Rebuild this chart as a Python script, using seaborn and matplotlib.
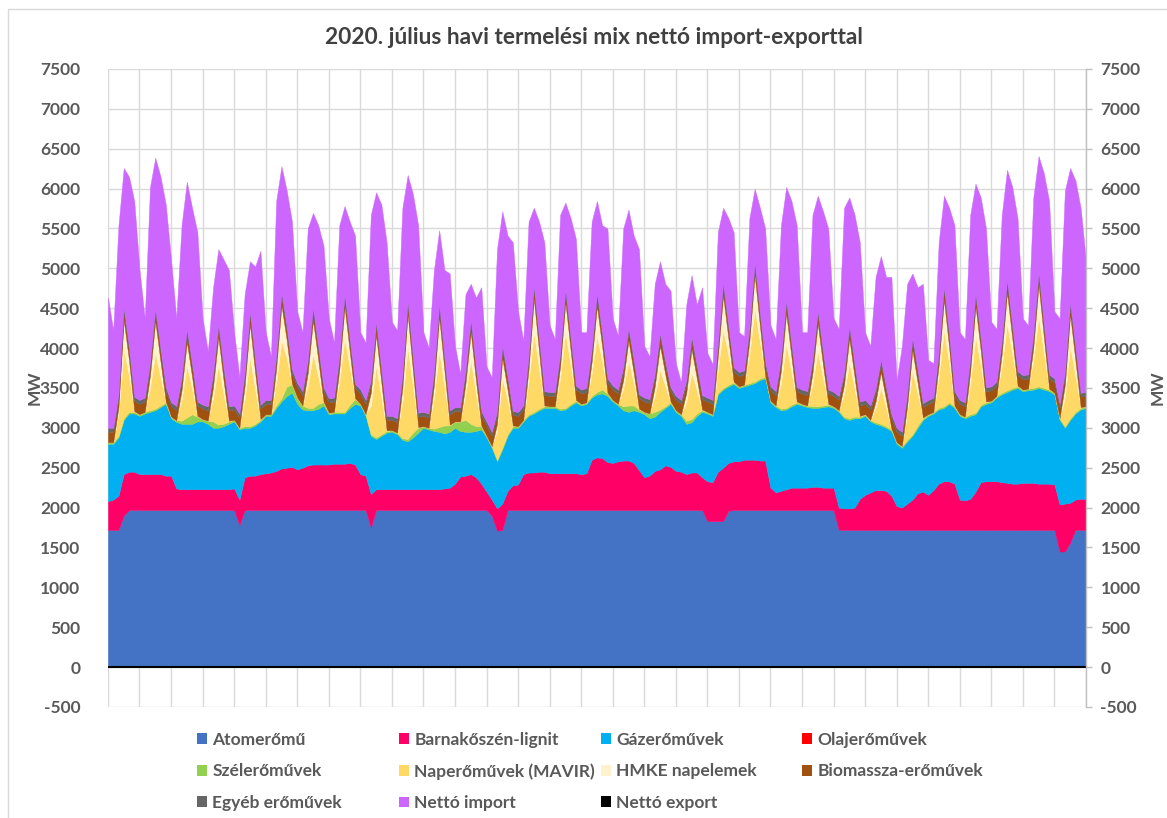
import matplotlib
matplotlib.use("Agg")
import matplotlib.pyplot as plt
import seaborn as sns
import pandas as pd
from matplotlib.patches import Patch
from matplotlib.lines import Line2D

# --- adatok: 31 nap, naponta 0, 4, 8, 12, 16, 20 órás értékek (MW), a végén a hónap vége ---
atom = [
    1720, 1720, 1720, 1900, 1970, 1970,
    1970, 1970, 1970, 1970, 1970, 1970,
    1970, 1970, 1970, 1970, 1970, 1970,
    1970, 1970, 1970, 1970, 1970, 1970,
    1970, 1780, 1970, 1970, 1970, 1970,
    1970, 1970, 1970, 1970, 1970, 1970,
    1970, 1970, 1970, 1970, 1970, 1970,
    1970, 1970, 1970, 1970, 1970, 1970,
    1970, 1970, 1750, 1970, 1970, 1970,
    1970, 1970, 1970, 1970, 1970, 1970,
    1970, 1970, 1970, 1970, 1970, 1970,
    1970, 1970, 1970, 1970, 1970, 1970,
    1970, 1900, 1710, 1720, 1970, 1970,
    1970, 1970, 1970, 1970, 1970, 1970,
    1970, 1970, 1970, 1970, 1970, 1970,
    1970, 1970, 1970, 1970, 1970, 1970,
    1970, 1970, 1970, 1970, 1970, 1970,
    1970, 1970, 1970, 1970, 1970, 1970,
    1970, 1970, 1970, 1970, 1970, 1970,
    1830, 1830, 1830, 1830, 1960, 1970,
    1970, 1970, 1970, 1970, 1970, 1970,
    1970, 1970, 1970, 1970, 1970, 1970,
    1970, 1970, 1970, 1970, 1970, 1970,
    1970, 1720, 1720, 1720, 1720, 1720,
    1720, 1720, 1720, 1720, 1720, 1720,
    1720, 1720, 1720, 1720, 1720, 1720,
    1720, 1720, 1720, 1720, 1720, 1720,
    1720, 1720, 1720, 1720, 1720, 1720,
    1720, 1720, 1720, 1720, 1720, 1720,
    1720, 1720, 1720, 1720, 1720, 1720,
    1720, 1450, 1450, 1560, 1720, 1720,
    1720,
]
lignit = [
    360, 380, 430, 520, 480, 480,
    450, 450, 450, 450, 450, 430,
    430, 270, 260, 260, 260, 260,
    260, 260, 260, 260, 260, 260,
    270, 320, 410, 430, 430, 450,
    460, 470, 490, 520, 530, 540,
    510, 530, 560, 570, 570, 570,
    570, 580, 580, 580, 590, 570,
    450, 430, 420, 260, 260, 260,
    260, 260, 260, 260, 260, 260,
    260, 260, 260, 260, 270, 280,
    330, 420, 430, 450, 410, 330,
    230, 200, 280, 330, 240, 310,
    320, 450, 470, 470, 480, 480,
    460, 460, 460, 460, 460, 460,
    450, 460, 630, 660, 650, 600,
    590, 610, 620, 620, 590, 500,
    410, 430, 490, 510, 560, 540,
    490, 480, 450, 470, 470, 410,
    500, 490, 620, 670, 600, 610,
    610, 630, 630, 630, 620, 620,
    280, 220, 240, 260, 280, 280,
    280, 280, 290, 290, 280, 280,
    280, 280, 270, 270, 280, 390,
    440, 470, 500, 500, 490, 430,
    300, 280, 330, 380, 460, 480,
    440, 500, 580, 610, 610, 580,
    380, 370, 390, 480, 600, 610,
    610, 610, 600, 590, 580, 580,
    590, 590, 590, 580, 580, 580,
    570, 590, 600, 500, 380, 390,
    390,
]
gaz = [
    720, 700, 730, 680, 730, 730,
    730, 760, 780, 800, 840, 900,
    720, 835, 820, 820, 820, 850,
    850, 820, 770, 770, 790, 820,
    840, 880, 620, 600, 630, 660,
    720, 710, 790, 840, 900, 930,
    820, 730, 690, 680, 700, 740,
    630, 630, 630, 630, 690, 760,
    860, 750, 730, 630, 670, 710,
    720, 690, 620, 600, 650, 710,
    770, 750, 730, 720, 690, 700,
    700, 570, 550, 530, 580, 680,
    680, 650, 590, 680, 690, 720,
    710, 660, 710, 740, 770, 800,
    820, 820, 790, 800, 850, 890,
    860, 870, 780, 790, 810, 830,
    770, 700, 630, 610, 660, 730,
    790, 720, 680, 720, 720, 790,
    740, 700, 630, 630, 710, 820,
    850, 830, 970, 980, 960, 970,
    920, 920, 940, 960, 1010, 1030,
    1070, 1070, 1010, 1000, 1020, 1050,
    1030, 1010, 990, 990, 1010, 1020,
    1000, 1200, 1130, 1110, 1120, 1010,
    990, 890, 830, 810, 790, 810,
    780, 750, 780, 800, 820, 900,
    990, 960, 930, 920, 970, 950,
    1050, 1030, 1040, 970, 950, 970,
    990, 1050, 1100, 1140, 1180, 1200,
    1150, 1160, 1170, 1200, 1180, 1160,
    1130, 1060, 950, 1040, 1080, 1120,
    1140,
]
szel = [
    20, 20, 20, 20, 20, 20,
    20, 20, 20, 20, 20, 20,
    20, 20, 40, 80, 120, 60,
    30, 40, 80, 40, 30, 30,
    20, 20, 20, 20, 20, 20,
    20, 20, 30, 40, 120, 100,
    80, 50, 30, 30, 60, 40,
    20, 20, 20, 20, 40, 60,
    20, 20, 20, 20, 20, 20,
    20, 20, 20, 30, 60, 60,
    20, 20, 30, 60, 100, 80,
    80, 120, 150, 100, 60, 40,
    20, 20, 20, 20, 20, 20,
    20, 20, 20, 20, 20, 20,
    20, 20, 20, 20, 20, 20,
    20, 20, 20, 30, 50, 30,
    20, 20, 50, 80, 60, 30,
    30, 60, 60, 30, 20, 20,
    20, 20, 40, 40, 30, 20,
    20, 20, 20, 20, 20, 20,
    20, 20, 20, 20, 20, 20,
    20, 20, 20, 20, 20, 20,
    20, 20, 20, 20, 20, 20,
    20, 20, 20, 20, 20, 20,
    20, 20, 20, 20, 20, 20,
    20, 20, 20, 20, 30, 20,
    20, 20, 20, 20, 20, 20,
    20, 20, 20, 20, 20, 20,
    20, 20, 20, 20, 20, 20,
    20, 20, 20, 20, 20, 20,
    20, 20, 20, 20, 20, 20,
    20,
]
nap = [
    0, 0, 280, 850, 450, 10,
    0, 0, 280, 700, 350, 10,
    0, 0, 260, 650, 320, 10,
    0, 0, 300, 750, 370, 10,
    0, 0, 340, 860, 430, 10,
    0, 0, 290, 720, 360, 10,
    0, 0, 270, 680, 340, 10,
    0, 0, 370, 930, 460, 10,
    0, 0, 360, 900, 450, 10,
    0, 0, 460, 1150, 570, 10,
    0, 0, 380, 950, 480, 10,
    0, 0, 320, 800, 400, 10,
    0, 0, 350, 870, 430, 10,
    0, 0, 400, 1000, 500, 10,
    0, 0, 380, 950, 480, 10,
    0, 0, 280, 700, 350, 10,
    0, 0, 220, 560, 280, 10,
    0, 0, 200, 500, 250, 10,
    0, 0, 230, 580, 290, 10,
    0, 0, 290, 730, 370, 10,
    0, 0, 360, 910, 450, 10,
    0, 0, 320, 800, 400, 10,
    0, 0, 280, 690, 340, 10,
    0, 0, 280, 700, 350, 10,
    0, 0, 180, 450, 230, 10,
    0, 0, 320, 800, 400, 10,
    0, 0, 380, 950, 480, 10,
    0, 0, 380, 950, 480, 10,
    0, 0, 330, 830, 420, 10,
    0, 0, 350, 880, 440, 10,
    0, 0, 360, 900, 450, 10,
    0,
]
hmke = [
    0, 0, 80, 380, 200, 0,
    0, 0, 160, 400, 200, 0,
    0, 0, 120, 300, 150, 0,
    0, 0, 140, 350, 170, 0,
    0, 0, 170, 420, 210, 0,
    0, 0, 180, 450, 220, 0,
    0, 0, 170, 420, 210, 0,
    0, 0, 160, 390, 200, 0,
    0, 0, 160, 390, 200, 0,
    0, 0, 170, 420, 210, 0,
    0, 0, 170, 430, 210, 0,
    0, 0, 140, 350, 170, 0,
    0, 0, 100, 260, 130, 0,
    0, 0, 170, 420, 210, 0,
    0, 0, 150, 380, 190, 0,
    0, 0, 150, 380, 190, 0,
    0, 0, 110, 260, 130, 0,
    0, 0, 120, 300, 150, 0,
    0, 0, 120, 300, 150, 0,
    0, 0, 170, 430, 210, 0,
    0, 0, 170, 430, 210, 0,
    0, 0, 160, 390, 200, 0,
    0, 0, 140, 350, 170, 0,
    0, 0, 120, 300, 150, 0,
    0, 0, 80, 200, 100, 0,
    0, 0, 100, 260, 130, 0,
    0, 0, 160, 390, 200, 0,
    0, 0, 160, 390, 200, 0,
    0, 0, 160, 400, 200, 0,
    0, 0, 160, 400, 200, 0,
    0, 0, 160, 400, 200, 0,
    0,
]
bio = [
    130, 130, 110, 110, 110, 130,
    130, 130, 110, 110, 110, 130,
    130, 130, 110, 110, 110, 130,
    130, 130, 110, 110, 110, 130,
    130, 130, 110, 110, 110, 130,
    130, 130, 110, 110, 110, 130,
    130, 130, 110, 110, 110, 130,
    130, 130, 110, 110, 110, 130,
    130, 130, 110, 110, 110, 130,
    130, 130, 110, 110, 110, 130,
    130, 130, 110, 110, 110, 130,
    130, 130, 110, 110, 110, 130,
    130, 130, 110, 110, 110, 130,
    130, 130, 110, 110, 110, 130,
    130, 130, 110, 110, 110, 130,
    130, 130, 110, 110, 110, 130,
    130, 130, 110, 110, 110, 130,
    130, 130, 110, 110, 110, 130,
    130, 130, 110, 110, 110, 130,
    130, 130, 110, 110, 110, 130,
    130, 130, 110, 110, 110, 130,
    130, 130, 110, 110, 110, 130,
    130, 130, 110, 110, 110, 130,
    130, 130, 110, 110, 110, 130,
    130, 130, 110, 110, 110, 130,
    130, 130, 110, 110, 110, 130,
    130, 130, 110, 110, 110, 130,
    130, 130, 110, 110, 110, 130,
    130, 130, 110, 110, 110, 130,
    130, 130, 110, 110, 110, 130,
    130, 130, 110, 110, 110, 130,
    130,
]
egyeb = [
    50, 50, 50, 50, 50, 50,
    50, 50, 50, 50, 50, 50,
    50, 50, 50, 50, 50, 50,
    50, 50, 50, 50, 50, 50,
    50, 50, 50, 50, 50, 50,
    50, 50, 50, 50, 50, 50,
    50, 50, 50, 50, 50, 50,
    50, 50, 50, 50, 50, 50,
    50, 50, 50, 50, 50, 50,
    50, 50, 50, 50, 50, 50,
    50, 50, 50, 50, 50, 50,
    50, 50, 50, 50, 50, 50,
    50, 50, 50, 50, 50, 50,
    50, 50, 50, 50, 50, 50,
    50, 50, 50, 50, 50, 50,
    50, 50, 50, 50, 50, 50,
    50, 50, 50, 50, 50, 50,
    50, 50, 50, 50, 50, 50,
    50, 50, 50, 50, 50, 50,
    50, 50, 50, 50, 50, 50,
    50, 50, 50, 50, 50, 50,
    50, 50, 50, 50, 50, 50,
    50, 50, 50, 50, 50, 50,
    50, 50, 50, 50, 50, 50,
    50, 50, 50, 50, 50, 50,
    50, 50, 50, 50, 50, 50,
    50, 50, 50, 50, 50, 50,
    50, 50, 50, 50, 50, 50,
    50, 50, 50, 50, 50, 50,
    50, 50, 50, 50, 50, 50,
    50, 50, 50, 50, 50, 50,
    50,
]
netto_import = [
    1633, 1222, 2120, 1747, 2140, 2455,
    1630, 993, 2200, 1887, 2160, 2290,
    1790, 1098, 1910, 1845, 1960, 2125,
    1083, 690, 1083, 940, 1360, 1710,
    920, 457, 986, 628, 1173, 1928,
    850, 547, 1935, 1580, 1715, 1855,
    900, 740, 1650, 1184, 1530, 1773,
    1003, 690, 1650, 1100, 1475, 1860,
    720, 720, 2072, 1623, 2070, 2176,
    1180, 1102, 2099, 1580, 2052, 2350,
    1000, 827, 1280, 927, 1100, 1716,
    767, 420, 956, 446, 883, 1553,
    687, 687, 2030, 1676, 1772, 2116,
    1260, 812, 1685, 980, 1475, 1866,
    837, 663, 1742, 1084, 1500, 1840,
    720, 700, 1595, 1155, 1360, 1880,
    843, 677, 1740, 1477, 1562, 1820,
    647, 537, 1126, 898, 976, 1210,
    410, 222, 946, 765, 766, 1353,
    560, 450, 1395, 939, 1350, 1695,
    500, 430, 1380, 917, 1320, 1670,
    767, 653, 1660, 1420, 1795, 2030,
    720, 740, 1822, 1440, 1766, 2020,
    923, 843, 2059, 1608, 1872, 1996,
    850, 747, 1403, 1293, 1383, 1723,
    594, 1077, 1376, 796, 1043, 1496,
    503, 430, 1376, 1140, 1599, 2080,
    850, 793, 1802, 1372, 1758, 1990,
    810, 663, 1582, 1375, 1740, 1920,
    713, 617, 1718, 1448, 1892, 2175,
    840, 1073, 2275, 1677, 2095, 2319,
    1650,
]

napok = 31
orak = [0, 4, 8, 12, 16, 20]
ido = [d * 24 + h for d in range(napok) for h in orak] + [napok * 24]

df = pd.DataFrame({
    "Atomerőmű": atom, "Barnakőszén-lignit": lignit, "Gázerőművek": gaz,
    "Szélerőművek": szel, "Naperőművek (MAVIR)": nap, "HMKE napelemek": hmke,
    "Biomassza-erőművek": bio, "Egyéb erőművek": egyeb, "Nettó import": netto_import,
}, index=ido)

szinek = {
    "Atomerőmű": "#4472C4", "Barnakőszén-lignit": "#FF0066", "Gázerőművek": "#00B0F0",
    "Olajerőművek": "#FF0000", "Szélerőművek": "#92D050", "Naperőművek (MAVIR)": "#FFD966",
    "HMKE napelemek": "#FFF2CC", "Biomassza-erőművek": "#A0500F", "Egyéb erőművek": "#666666",
    "Nettó import": "#CC66FF", "Nettó export": "#000000",
}

sns.set_theme(style="white")
plt.rcParams["font.family"] = ["Lato", "DejaVu Sans"]
szurke = "#595959"
fs_tick = 12.5

fig = plt.figure(figsize=(11.67, 8.18), dpi=100)
ax = fig.add_axes([0.0925, 0.1357, 0.838, 0.78])

ax.stackplot(df.index, *[df[c] for c in df.columns],
             colors=[szinek[c] for c in df.columns], linewidth=0.3,
             edgecolor="face")

ax.set_xlim(0, napok * 24)
ax.set_ylim(-500, 7500)
ax.set_xticks(range(0, napok * 24 + 1, 24))
ax.set_xticklabels([])
yt = list(range(-500, 7501, 500))
ax.set_yticks(yt)
ax.set_yticklabels([str(v) for v in yt], fontweight="bold", color=szurke, fontsize=fs_tick)
ax.tick_params(length=0, pad=20)
ax.grid(True, color="#d9d9d9", lw=1)
ax.set_axisbelow(True)
ax.axhline(0, color="black", lw=1.5, zorder=5)
for s in ax.spines.values():
    s.set_visible(False)
ax.set_ylabel("MW", fontweight="bold", color=szurke, fontsize=fs_tick)
ax.yaxis.set_label_coords((35 - 108) / 978, 0.5)
ax.yaxis.label.set_va("center")

ax2 = ax.twinx()
ax2.set_ylim(-500, 7500)
ax2.set_yticks(yt)
ax2.set_yticklabels([str(v) for v in yt], fontweight="bold", color=szurke, fontsize=fs_tick)
ax2.tick_params(axis="y", length=4, width=1, color="#bfbfbf", direction="out", pad=6.5)
ax2.grid(False)
for nev, s in ax2.spines.items():
    s.set_visible(nev == "right")
ax2.spines["right"].set_color("#bfbfbf")
ax2.spines["right"].set_linewidth(1)
ax2.set_ylabel("MW", fontweight="bold", color=szurke, fontsize=fs_tick)
ax2.yaxis.set_label_coords((1158 - 108) / 978, 0.5)
ax2.yaxis.label.set_va("center")

fig.text(594 / 1167, 1 - 37 / 818, "2020. július havi termelési mix nettó import-exporttal",
         ha="center", va="center", fontweight="bold", fontsize=16.3, color="#404040")

# jelmagyarázat: 4 oszlop, soronként olvasva
oszlopok = [
    ["Atomerőmű", "Szélerőművek", "Egyéb erőművek"],
    ["Barnakőszén-lignit", "Naperőművek (MAVIR)", "Nettó import"],
    ["Gázerőművek", "HMKE napelemek", "Nettó export"],
    ["Olajerőművek", "Biomassza-erőművek"],
]
oszlop_x = [197, 399, 601, 802]
for nevek, xp in zip(oszlopok, oszlop_x):
    kezelok = [Patch(facecolor=szinek[n], edgecolor="none") for n in nevek]
    leg = fig.legend(kezelok, nevek, loc="upper left",
                     bbox_to_anchor=(xp / 1167, 1 - 732 / 818),
                     frameon=False, borderpad=0, borderaxespad=0,
                     handlelength=0.58, handleheight=0.58, handletextpad=0.3,
                     labelspacing=0.88, prop={"weight": "bold", "size": 12.5})
    for t in leg.get_texts():
        t.set_color(szurke)

# diagram keret (csak a bal és felső széle látszik)
fig.add_artist(Line2D([8 / 1167, 8 / 1167, 1], [0, 1 - 9 / 818, 1 - 9 / 818],
                      transform=fig.transFigure, color="#d9d9d9", lw=1))

fig.savefig("out.png", dpi=100)
